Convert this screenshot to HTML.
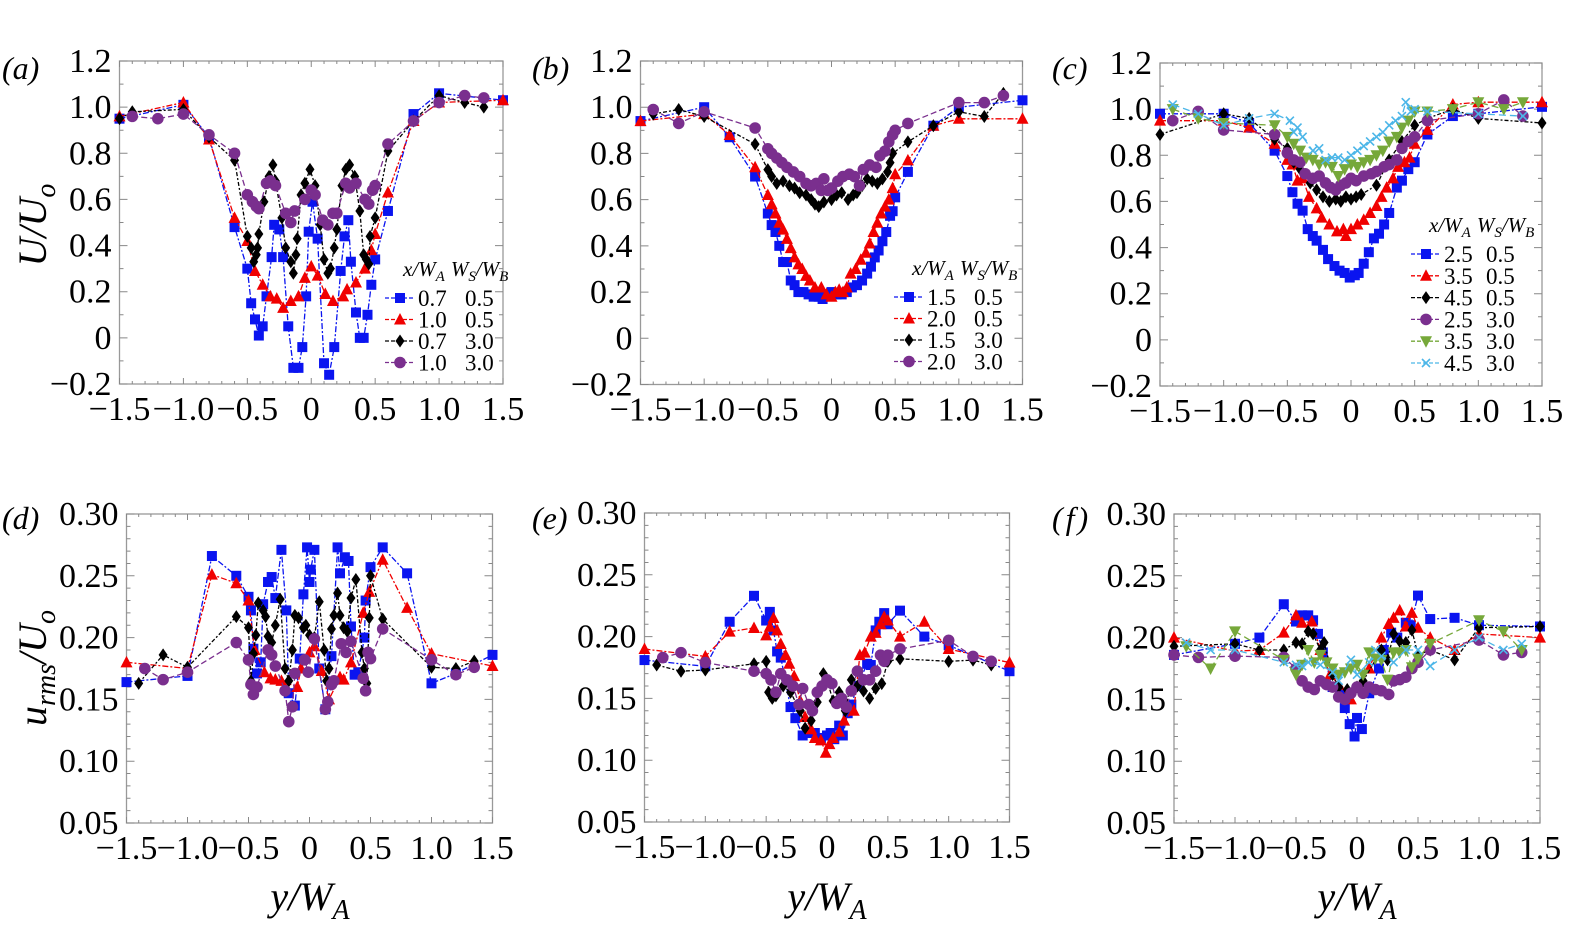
<!DOCTYPE html>
<html><head><meta charset="utf-8">
<style>
html,body{margin:0;padding:0;background:#fff;}
svg{display:block;}
text{font-family:"Liberation Serif",serif;}
</style></head>
<body>
<svg id="fig" width="1570" height="930" viewBox="0 0 1570 930" xmlns="http://www.w3.org/2000/svg">
<text x="2" y="79" font-size="32" font-style="italic">(a)</text>
<text x="532" y="79" font-size="32" font-style="italic">(b)</text>
<text x="1052" y="79" font-size="32" font-style="italic">(c)</text>
<text x="2" y="529" font-size="32" font-style="italic">(d)</text>
<text x="532" y="529" font-size="32" font-style="italic">(e)</text>
<text x="1052" y="529" font-size="32" font-style="italic">(<tspan dx="3">f</tspan><tspan dx="3">)</tspan></text>
<text transform="translate(46,225) rotate(-90)" text-anchor="middle" font-size="40" font-style="italic">U/U<tspan font-size="28" dy="9">o</tspan></text>
<text transform="translate(46,668) rotate(-90)" text-anchor="middle" font-size="40" font-style="italic">u<tspan font-size="28" dy="9">rms</tspan><tspan dy="-9">/U</tspan><tspan font-size="28" dy="9">o</tspan></text>
<text x="310" y="910" text-anchor="middle" font-size="40" font-style="italic">y/W<tspan font-size="28" dy="9">A</tspan></text>
<text x="827" y="910" text-anchor="middle" font-size="40" font-style="italic">y/W<tspan font-size="28" dy="9">A</tspan></text>
<text x="1357" y="910" text-anchor="middle" font-size="40" font-style="italic">y/W<tspan font-size="28" dy="9">A</tspan></text>
</svg>
<script>
// ---- Panel (a) data: U/Uo ----
const aBlueX=[-1.5,-1.0,-0.8,-0.6,-0.5,-0.47,-0.44,-0.41,-0.38,-0.35,-0.31,-0.29,-0.25,-0.22,-0.18,-0.14,-0.10,-0.07,-0.04,-0.02,0.01,0.05,0.10,0.14,0.18,0.23,0.26,0.29,0.31,0.35,0.38,0.41,0.44,0.47,0.5,0.6,0.8,1.0,1.5];
const aBlueY=[0.95,1.01,0.87,0.48,0.30,0.15,0.08,0.01,0.05,0.18,0.35,0.49,0.47,0.35,0.05,-0.13,-0.13,-0.04,0.18,0.46,0.59,0.43,-0.11,-0.16,-0.04,0.29,0.44,0.51,0.33,0.11,0.0,0.0,0.10,0.23,0.34,0.55,0.97,1.06,1.03];
const aRedX=[-1.5,-1.0,-0.8,-0.6,-0.5,-0.44,-0.38,-0.32,-0.27,-0.22,-0.16,-0.1,-0.05,0,0.05,0.11,0.17,0.25,0.28,0.35,0.42,0.47,0.5,0.6,0.8,1.0,1.5];
const aRedY=[0.96,1.02,0.86,0.52,0.42,0.29,0.23,0.18,0.17,0.13,0.16,0.18,0.26,0.31,0.27,0.19,0.16,0.18,0.21,0.24,0.30,0.38,0.45,0.63,0.94,1.02,1.03];
const aBlackX=[-1.5,-1.4,-1.0,-0.8,-0.6,-0.5,-0.47,-0.45,-0.43,-0.42,-0.41,-0.37,-0.33,-0.3,-0.28,-0.23,-0.2,-0.16,-0.14,-0.12,-0.11,-0.08,-0.05,-0.01,0.03,0.07,0.1,0.13,0.15,0.18,0.2,0.24,0.27,0.3,0.34,0.38,0.41,0.43,0.45,0.46,0.5,0.6,0.8,1.0,1.2,1.35];
const aBlackY=[0.95,0.98,0.99,0.87,0.77,0.44,0.39,0.33,0.36,0.39,0.45,0.59,0.70,0.75,0.68,0.52,0.39,0.33,0.28,0.36,0.43,0.62,0.67,0.73,0.66,0.49,0.34,0.28,0.30,0.39,0.47,0.66,0.73,0.75,0.70,0.55,0.36,0.34,0.32,0.44,0.52,0.81,0.94,1.05,1.02,1.0];
const aPurpleX=[-1.4,-1.2,-1.0,-0.8,-0.6,-0.5,-0.46,-0.43,-0.41,-0.35,-0.32,-0.28,-0.2,-0.16,-0.13,-0.05,0,0.03,0.09,0.13,0.17,0.2,0.27,0.3,0.35,0.42,0.45,0.48,0.5,0.6,0.8,1.0,1.2,1.35];
const aPurpleY=[0.96,0.95,0.97,0.88,0.80,0.62,0.59,0.57,0.56,0.67,0.68,0.66,0.54,0.50,0.55,0.60,0.64,0.62,0.51,0.49,0.54,0.54,0.67,0.65,0.67,0.60,0.58,0.64,0.66,0.84,0.94,1.02,1.05,1.04];
// ---- Panel (b) ----
const bBlueX=[-1.5,-1.0,-0.8,-0.6,-0.5,-0.47,-0.44,-0.41,-0.38,-0.35,-0.32,-0.29,-0.26,-0.22,-0.18,-0.14,-0.1,-0.07,-0.03,0,0.04,0.08,0.12,0.16,0.2,0.24,0.28,0.31,0.34,0.37,0.4,0.43,0.46,0.48,0.5,0.6,0.8,1.0,1.5];
const bBlueY=[0.94,1.0,0.87,0.70,0.54,0.49,0.46,0.40,0.33,0.33,0.25,0.23,0.20,0.20,0.19,0.18,0.18,0.17,0.19,0.20,0.19,0.19,0.20,0.22,0.23,0.25,0.28,0.31,0.35,0.38,0.42,0.46,0.53,0.55,0.61,0.72,0.92,1.0,1.03];
const bRedX=[-1.5,-1.0,-0.8,-0.6,-0.5,-0.47,-0.44,-0.41,-0.38,-0.35,-0.32,-0.29,-0.26,-0.23,-0.2,-0.17,-0.13,-0.08,-0.04,0,0.03,0.06,0.09,0.12,0.15,0.19,0.23,0.27,0.3,0.33,0.36,0.39,0.42,0.45,0.48,0.5,0.6,0.8,1.0,1.5];
const bRedY=[0.94,0.97,0.88,0.74,0.62,0.58,0.54,0.50,0.47,0.43,0.39,0.35,0.32,0.30,0.27,0.25,0.22,0.22,0.19,0.18,0.20,0.21,0.20,0.22,0.28,0.30,0.34,0.37,0.41,0.46,0.50,0.54,0.57,0.60,0.65,0.71,0.77,0.92,0.95,0.95];
const bBlackX=[-1.4,-1.2,-1.0,-0.6,-0.5,-0.47,-0.43,-0.38,-0.33,-0.29,-0.25,-0.2,-0.16,-0.13,-0.1,-0.06,0,0.04,0.08,0.13,0.17,0.2,0.24,0.28,0.32,0.36,0.4,0.44,0.46,0.48,0.6,0.8,1.0,1.2,1.35];
const bBlackY=[0.97,0.99,0.96,0.84,0.73,0.70,0.67,0.68,0.66,0.65,0.63,0.62,0.60,0.58,0.57,0.59,0.60,0.62,0.63,0.60,0.62,0.63,0.66,0.69,0.68,0.67,0.69,0.72,0.76,0.80,0.85,0.92,0.98,0.96,1.06];
const bPurpleX=[-1.4,-1.2,-1.0,-0.6,-0.5,-0.47,-0.43,-0.39,-0.35,-0.3,-0.25,-0.2,-0.16,-0.12,-0.08,-0.06,-0.03,0,0.05,0.09,0.14,0.18,0.22,0.25,0.3,0.35,0.38,0.42,0.45,0.48,0.5,0.6,1.0,1.2,1.35];
const bPurpleY=[0.99,0.93,0.98,0.91,0.82,0.80,0.78,0.76,0.74,0.72,0.70,0.67,0.66,0.67,0.64,0.69,0.64,0.65,0.68,0.70,0.71,0.70,0.66,0.73,0.75,0.74,0.79,0.81,0.85,0.88,0.90,0.93,1.02,1.02,1.05];
// ---- Panel (c) ----
const cBlueX=[-1.5,-1.0,-0.8,-0.6,-0.5,-0.46,-0.42,-0.38,-0.34,-0.3,-0.27,-0.22,-0.18,-0.13,-0.09,-0.05,-0.01,0.03,0.06,0.1,0.14,0.18,0.22,0.26,0.3,0.36,0.4,0.45,0.5,0.6,0.8,1.0,1.5];
const cBlueY=[0.98,0.98,0.94,0.82,0.71,0.64,0.59,0.56,0.48,0.45,0.43,0.39,0.35,0.32,0.30,0.29,0.27,0.28,0.29,0.33,0.38,0.44,0.46,0.50,0.55,0.66,0.69,0.74,0.77,0.89,0.97,0.98,1.01];
const cRedX=[-1.5,-1.0,-0.8,-0.6,-0.5,-0.46,-0.42,-0.38,-0.33,-0.27,-0.23,-0.17,-0.11,-0.06,-0.04,0,0.05,0.1,0.15,0.2,0.24,0.28,0.33,0.37,0.42,0.46,0.5,0.6,0.8,1.0,1.5];
const cRedY=[0.95,0.95,0.92,0.85,0.78,0.76,0.69,0.70,0.62,0.57,0.53,0.50,0.47,0.48,0.45,0.48,0.50,0.52,0.55,0.58,0.62,0.66,0.70,0.75,0.77,0.79,0.85,0.91,1.02,1.03,1.03];
const cBlackX=[-1.5,-1.0,-0.8,-0.6,-0.5,-0.45,-0.4,-0.32,-0.27,-0.22,-0.17,-0.12,-0.08,-0.04,0,0.04,0.08,0.2,0.3,0.4,0.5,0.6,0.8,1.0,1.5];
const cBlackY=[0.89,0.98,0.96,0.87,0.83,0.77,0.74,0.68,0.65,0.62,0.60,0.61,0.60,0.62,0.61,0.62,0.63,0.67,0.78,0.86,0.93,0.96,1.0,0.96,0.94];
const cPurpleX=[-1.4,-1.2,-1.0,-0.6,-0.5,-0.45,-0.4,-0.36,-0.3,-0.25,-0.2,-0.16,-0.12,-0.08,-0.04,0,0.04,0.1,0.16,0.2,0.26,0.3,0.36,0.4,0.45,0.5,0.6,1.0,1.2,1.35];
const cPurpleY=[0.95,0.99,0.91,0.89,0.81,0.78,0.77,0.72,0.70,0.71,0.68,0.66,0.65,0.67,0.68,0.70,0.69,0.71,0.72,0.73,0.75,0.76,0.78,0.83,0.86,0.88,0.95,0.98,1.04,0.97];
const cGreenX=[-1.4,-1.2,-1.0,-0.6,-0.5,-0.45,-0.4,-0.35,-0.3,-0.25,-0.2,-0.15,-0.1,-0.05,0,0.05,0.1,0.15,0.2,0.25,0.3,0.36,0.4,0.45,0.5,0.6,0.8,1.0,1.2,1.35];
const cGreenY=[1.0,0.96,0.94,0.93,0.88,0.85,0.82,0.79,0.78,0.76,0.77,0.75,0.71,0.74,0.76,0.75,0.77,0.78,0.80,0.82,0.86,0.88,0.92,0.95,0.99,0.99,1.0,1.03,1.0,1.03];
const cCyanX=[-1.4,-1.2,-1.0,-0.8,-0.6,-0.48,-0.45,-0.42,-0.38,-0.3,-0.25,-0.2,-0.15,-0.1,-0.05,0,0.05,0.1,0.15,0.2,0.25,0.3,0.35,0.4,0.43,0.47,0.5,0.6,1.0,1.35];
const cCyanY=[1.02,0.98,0.93,0.96,0.98,0.95,0.90,0.92,0.88,0.82,0.83,0.78,0.79,0.79,0.78,0.80,0.82,0.84,0.86,0.88,0.90,0.93,0.95,0.97,1.03,0.99,1.0,0.99,0.98,0.97];
// ---- Panel (d): urms/Uo ----
const dBlueX=[-1.5,-1.0,-0.8,-0.6,-0.5,-0.48,-0.46,-0.43,-0.4,-0.38,-0.34,-0.31,-0.28,-0.23,-0.19,-0.17,-0.12,-0.08,-0.05,-0.02,0,0.01,0.04,0.08,0.13,0.18,0.23,0.25,0.29,0.32,0.34,0.37,0.4,0.45,0.46,0.5,0.6,0.8,1.0,1.2,1.5];
const dBlueY=[0.164,0.169,0.266,0.250,0.233,0.222,0.191,0.171,0.180,0.227,0.245,0.249,0.232,0.271,0.222,0.155,0.145,0.183,0.235,0.273,0.245,0.255,0.271,0.175,0.142,0.185,0.273,0.252,0.265,0.262,0.209,0.170,0.172,0.200,0.230,0.257,0.273,0.252,0.163,0.171,0.186];
const dRedX=[-1.5,-1.0,-0.8,-0.6,-0.5,-0.45,-0.37,-0.32,-0.28,-0.23,-0.1,-0.07,0,0.04,0.1,0.16,0.25,0.28,0.34,0.44,0.49,0.6,0.8,1.0,1.5];
const dRedY=[0.180,0.175,0.251,0.244,0.230,0.190,0.172,0.167,0.166,0.165,0.160,0.175,0.188,0.193,0.173,0.150,0.168,0.166,0.180,0.220,0.237,0.263,0.224,0.187,0.177];
const dBlackX=[-1.4,-1.2,-1.0,-0.6,-0.5,-0.48,-0.46,-0.44,-0.42,-0.38,-0.36,-0.34,-0.31,-0.28,-0.24,-0.2,-0.17,-0.14,-0.12,-0.09,-0.05,-0.03,0,0.04,0.08,0.12,0.14,0.16,0.18,0.2,0.23,0.25,0.28,0.31,0.34,0.38,0.43,0.45,0.47,0.49,0.5,0.6,1.0,1.2,1.35];
const dBlackY=[0.163,0.186,0.176,0.217,0.208,0.165,0.187,0.202,0.228,0.222,0.217,0.201,0.196,0.210,0.231,0.175,0.165,0.190,0.218,0.216,0.208,0.210,0.202,0.200,0.229,0.190,0.165,0.175,0.207,0.218,0.236,0.218,0.208,0.205,0.232,0.247,0.188,0.175,0.163,0.216,0.250,0.215,0.176,0.175,0.181];
const dPurpleX=[-1.35,-1.2,-1.0,-0.6,-0.5,-0.48,-0.46,-0.43,-0.34,-0.31,-0.28,-0.2,-0.17,-0.14,-0.12,-0.04,-0.01,0.04,0.13,0.15,0.18,0.2,0.26,0.3,0.34,0.44,0.46,0.48,0.5,0.6,1.0,1.2,1.35];
const dPurpleY=[0.175,0.166,0.172,0.196,0.182,0.162,0.154,0.160,0.190,0.186,0.177,0.157,0.132,0.144,0.171,0.182,0.172,0.199,0.142,0.148,0.162,0.165,0.195,0.188,0.197,0.167,0.157,0.188,0.183,0.207,0.182,0.170,0.176];
// ---- Panel (e) ----
const eBlueX=[-1.5,-1.0,-0.8,-0.6,-0.5,-0.47,-0.44,-0.41,-0.38,-0.3,-0.26,-0.2,-0.15,-0.1,-0.05,0,0.03,0.06,0.1,0.13,0.17,0.2,0.25,0.33,0.36,0.4,0.43,0.47,0.5,0.6,0.8,1.0,1.5];
const eBlueY=[0.181,0.176,0.212,0.233,0.213,0.220,0.205,0.188,0.183,0.143,0.134,0.120,0.122,0.122,0.118,0.120,0.122,0.117,0.128,0.120,0.138,0.145,0.160,0.178,0.177,0.205,0.212,0.219,0.210,0.221,0.200,0.193,0.172];
const eRedX=[-1.5,-1.0,-0.8,-0.6,-0.5,-0.47,-0.44,-0.41,-0.38,-0.34,-0.31,-0.27,-0.22,-0.18,-0.13,-0.1,-0.05,-0.01,0.02,0.05,0.1,0.14,0.22,0.27,0.31,0.36,0.4,0.44,0.47,0.5,0.6,0.8,1.0,1.5];
const eRedY=[0.190,0.184,0.204,0.207,0.201,0.208,0.215,0.205,0.194,0.185,0.178,0.168,0.148,0.135,0.125,0.118,0.116,0.106,0.113,0.118,0.123,0.132,0.140,0.185,0.187,0.200,0.203,0.210,0.216,0.213,0.200,0.212,0.190,0.179];
const eBlackX=[-1.4,-1.2,-1.0,-0.6,-0.5,-0.48,-0.45,-0.42,-0.36,-0.3,-0.22,-0.18,-0.13,-0.08,-0.03,0,0.05,0.1,0.15,0.2,0.25,0.3,0.35,0.4,0.45,0.5,0.6,1.0,1.2,1.35];
const eBlackY=[0.177,0.172,0.173,0.178,0.180,0.155,0.150,0.152,0.160,0.155,0.140,0.126,0.132,0.147,0.170,0.165,0.148,0.155,0.140,0.165,0.160,0.156,0.150,0.158,0.162,0.180,0.182,0.180,0.181,0.177];
const ePurpleX=[-1.35,-1.2,-1.0,-0.6,-0.5,-0.46,-0.42,-0.38,-0.33,-0.28,-0.23,-0.2,-0.15,-0.12,-0.08,-0.04,0,0.04,0.08,0.12,0.16,0.2,0.25,0.3,0.35,0.4,0.44,0.47,0.5,0.6,1.0,1.2,1.35];
const ePurpleY=[0.183,0.187,0.179,0.172,0.170,0.165,0.155,0.170,0.165,0.160,0.145,0.158,0.145,0.140,0.155,0.160,0.165,0.162,0.146,0.150,0.143,0.156,0.172,0.165,0.165,0.172,0.185,0.180,0.185,0.190,0.197,0.184,0.180];
// ---- Panel (f) ----
const fBlueX=[-1.5,-1.0,-0.8,-0.6,-0.5,-0.45,-0.4,-0.36,-0.32,-0.28,-0.2,-0.12,-0.1,-0.06,-0.02,0,0.04,0.1,0.18,0.22,0.28,0.33,0.4,0.44,0.5,0.6,0.8,1.0,1.5];
const fBlueY=[0.186,0.195,0.200,0.227,0.213,0.218,0.218,0.214,0.203,0.188,0.160,0.155,0.143,0.130,0.120,0.135,0.126,0.155,0.175,0.190,0.204,0.200,0.212,0.210,0.234,0.215,0.216,0.210,0.209];
const fRedX=[-1.5,-1.0,-0.8,-0.6,-0.5,-0.45,-0.37,-0.3,-0.22,-0.15,-0.05,0.02,0.1,0.2,0.26,0.3,0.35,0.4,0.45,0.5,0.6,0.8,1.0,1.5];
const fRedY=[0.200,0.189,0.190,0.204,0.218,0.212,0.213,0.190,0.170,0.162,0.150,0.160,0.175,0.200,0.211,0.216,0.222,0.209,0.220,0.208,0.200,0.190,0.203,0.200];
const fBlackX=[-1.5,-1.0,-0.8,-0.6,-0.5,-0.45,-0.4,-0.36,-0.3,-0.27,-0.2,-0.15,-0.08,0,0.05,0.2,0.25,0.3,0.35,0.4,0.45,0.5,0.6,0.8,1.0,1.5];
const fBlackY=[0.193,0.195,0.190,0.190,0.196,0.195,0.205,0.203,0.190,0.196,0.170,0.160,0.158,0.160,0.165,0.190,0.182,0.203,0.197,0.196,0.206,0.186,0.190,0.182,0.208,0.209];
const fPurpleX=[-1.5,-1.3,-1.0,-0.6,-0.5,-0.45,-0.4,-0.35,-0.3,-0.25,-0.2,-0.15,-0.1,-0.05,0,0.05,0.1,0.15,0.2,0.26,0.3,0.35,0.4,0.45,0.5,0.6,1.0,1.2,1.35];
const fPurpleY=[0.186,0.184,0.185,0.184,0.175,0.165,0.160,0.158,0.165,0.162,0.160,0.152,0.150,0.155,0.160,0.155,0.160,0.158,0.157,0.154,0.165,0.166,0.168,0.175,0.180,0.190,0.198,0.186,0.188];
const fGreenX=[-1.4,-1.2,-1.0,-0.6,-0.5,-0.45,-0.4,-0.35,-0.3,-0.25,-0.2,-0.15,-0.1,-0.05,0,0.05,0.1,0.15,0.2,0.25,0.3,0.35,0.4,0.45,0.5,0.6,1.0,1.2,1.35];
const fGreenY=[0.193,0.175,0.205,0.182,0.170,0.178,0.190,0.180,0.186,0.180,0.175,0.170,0.172,0.175,0.178,0.170,0.188,0.183,0.182,0.166,0.188,0.188,0.190,0.176,0.183,0.195,0.214,0.205,0.190];
const fCyanX=[-1.4,-1.2,-1.0,-0.6,-0.5,-0.45,-0.4,-0.3,-0.2,-0.15,-0.05,0,0.1,0.15,0.2,0.3,0.4,0.5,0.6,0.8,1.0,1.2,1.35];
const fCyanY=[0.196,0.190,0.190,0.180,0.178,0.177,0.180,0.178,0.172,0.165,0.182,0.170,0.180,0.190,0.185,0.180,0.190,0.190,0.177,0.190,0.200,0.190,0.195];

const xTicks=[-1.5,-1.0,-0.5,0,0.5,1.0,1.5];
const xTickLabels=["−1.5","−1.0","−0.5","0","0.5","1.0","1.5"];
const yTopTicks=[-0.2,0,0.2,0.4,0.6,0.8,1.0,1.2];
const yTopLabels=["−0.2","0","0.2","0.4","0.6","0.8","1.0","1.2"];
const yBotTicks=[0.05,0.10,0.15,0.20,0.25,0.30];
const yBotLabels=["0.05","0.10","0.15","0.20","0.25","0.30"];

const NS="http://www.w3.org/2000/svg";
const svg=document.getElementById('fig');
function mk(tag,attrs,parent){const e=document.createElementNS(NS,tag);for(const k in attrs)e.setAttribute(k,attrs[k]);(parent||svg).appendChild(e);return e;}

const STY={
 blue:{c:'#0a14f0',m:'square',d:'6 2 2 2'},
 red:{c:'#f00000',m:'tri',d:'6 2 2 2'},
 black:{c:'#000000',m:'diamond',d:'4 2 2 2'},
 purple:{c:'#7a2f8e',m:'circle',d:'6 3'},
 green:{c:'#76a83a',m:'tridown',d:'7 4'},
 cyan:{c:'#4cb6e8',m:'x',d:'7 4'}
};
function marker(g,m,x,y,c){
 const s=5;
 if(m==='square')mk('rect',{x:x-s,y:y-s,width:2*s,height:2*s,fill:c},g);
 else if(m==='circle')mk('circle',{cx:x,cy:y,r:s+0.8,fill:c},g);
 else if(m==='tri')mk('polygon',{points:`${x},${y-s-1.5} ${x-s-1},${y+s} ${x+s+1},${y+s}`,fill:c},g);
 else if(m==='tridown')mk('polygon',{points:`${x},${y+s+1.5} ${x-s-1},${y-s} ${x+s+1},${y-s}`,fill:c},g);
 else if(m==='diamond')mk('polygon',{points:`${x},${y-s-1.5} ${x+s-0.5},${y} ${x},${y+s+1.5} ${x-s+0.5},${y}`,fill:c},g);
 else if(m==='x'){mk('path',{d:`M${x-4},${y-4}L${x+4},${y+4}M${x-4},${y+4}L${x+4},${y-4}`,stroke:c,'stroke-width':1.6,fill:'none'},g);}
}

function panel(id,L,R,T,B,y0,y1,yTicks,yLabels,yMinor,series,legend){
 const g=mk('g',{});
 
 
 const sx=v=>L+(v+1.5)/3*(R-L);
 const sy=v=>B-(v-y0)/(y1-y0)*(B-T);
 const frame=mk('rect',{x:L,y:T,width:R-L,height:B-T,fill:'none',stroke:'#999','stroke-width':1.3},g);
 
 
 let tk='';
 for(let i=0;i<=30;i++){const x=sx(-1.5+i*0.1);const len=(i%5===0)?6:3;tk+=`M${x},${B}v${-len}M${x},${T}v${len}`;}
 const ny=Math.round((y1-y0)/yMinor);
 for(let i=0;i<=ny;i++){const y=sy(y0+i*yMinor);tk+=`M${L},${y}h4M${R},${y}h-4`;}
 yTicks.forEach(v=>{const y=sy(v);tk+=`M${L},${y}h8M${R},${y}h-8`;});
 mk('path',{d:tk,stroke:'#888','stroke-width':1,fill:'none'},g);
 xTicks.forEach((v,i)=>{const t=mk('text',{x:sx(v),y:B+36,'text-anchor':'middle','font-size':34},g);t.textContent=xTickLabels[i];
  
  });
 yTicks.forEach((v,i)=>{const t=mk('text',{x:L-8,y:sy(v)+11,'text-anchor':'end','font-size':34},g);t.textContent=yLabels[i];
  
  });
 series.forEach(s=>{
  const st=STY[s.k];
  const sg=mk('g',{},g);
  
  
  const pts=s.x.map((v,i)=>sx(v).toFixed(1)+','+sy(s.y[i]).toFixed(1)).join(' ');
  mk('polyline',{points:pts,fill:'none',stroke:st.c,'stroke-width':1.3,'stroke-dasharray':st.d},sg);
  s.x.forEach((v,i)=>marker(sg,st.m,sx(v),sy(s.y[i]),st.c));
 });
 if(legend){
  const lg=mk('g',{},g);
  
  
  const h=mk('text',{x:legend.x+18,y:legend.y,'font-size':21,'font-style':'italic'},lg);
  h.innerHTML='x/W<tspan font-size="15" dy="5">A</tspan><tspan dx="6" dy="-5">W</tspan><tspan font-size="15" dy="5">S</tspan><tspan dy="-5">/W</tspan><tspan font-size="15" dy="5">B</tspan>';
  legend.items.forEach((it,i)=>{
   const y=legend.y+legend.dy0+i*legend.dy;const st=STY[it.k];
   const eg=mk('g',{},lg);
   
   
   mk('line',{x1:legend.x,y1:y,x2:legend.x+30,y2:y,stroke:st.c,'stroke-width':1.3,'stroke-dasharray':'4 2'},eg);
   marker(eg,st.m,legend.x+15,y,st.c);
   const t=mk('text',{x:legend.x+33,y:y+8,'font-size':23},eg);t.textContent=it.a;
   const t2=mk('text',{x:legend.x+legend.c2,y:y+8,'font-size':23},eg);t2.textContent=it.b;
  });
 }
}

panel('a',119.5,503,61,384,-0.2,1.2,yTopTicks,yTopLabels,0.1,
 [{k:'blue',x:aBlueX,y:aBlueY},{k:'red',x:aRedX,y:aRedY},{k:'black',x:aBlackX,y:aBlackY},{k:'purple',x:aPurpleX,y:aPurpleY}],
 {x:385,y:276,dy0:22,dy:21.5,c2:80,items:[{k:'blue',a:'0.7',b:'0.5'},{k:'red',a:'1.0',b:'0.5'},{k:'black',a:'0.7',b:'3.0'},{k:'purple',a:'1.0',b:'3.0'}]});
panel('b',640.5,1022.5,61,384.5,-0.2,1.2,yTopTicks,yTopLabels,0.1,
 [{k:'blue',x:bBlueX,y:bBlueY},{k:'red',x:bRedX,y:bRedY},{k:'black',x:bBlackX,y:bBlackY},{k:'purple',x:bPurpleX,y:bPurpleY}],
 {x:894,y:275,dy0:22,dy:21.5,c2:80,items:[{k:'blue',a:'1.5',b:'0.5'},{k:'red',a:'2.0',b:'0.5'},{k:'black',a:'1.5',b:'3.0'},{k:'purple',a:'2.0',b:'3.0'}]});
panel('c',1160,1542,63,386,-0.2,1.2,yTopTicks,yTopLabels,0.1,
 [{k:'blue',x:cBlueX,y:cBlueY},{k:'red',x:cRedX,y:cRedY},{k:'black',x:cBlackX,y:cBlackY},{k:'purple',x:cPurpleX,y:cPurpleY},{k:'green',x:cGreenX,y:cGreenY},{k:'cyan',x:cCyanX,y:cCyanY}],
 {x:1411,y:232,dy0:22,dy:21.8,c2:75,items:[{k:'blue',a:'2.5',b:'0.5'},{k:'red',a:'3.5',b:'0.5'},{k:'black',a:'4.5',b:'0.5'},{k:'purple',a:'2.5',b:'3.0'},{k:'green',a:'3.5',b:'3.0'},{k:'cyan',a:'4.5',b:'3.0'}]});
panel('d',126.5,492.5,514,823,0.05,0.30,yBotTicks,yBotLabels,0.01,
 [{k:'blue',x:dBlueX,y:dBlueY},{k:'red',x:dRedX,y:dRedY},{k:'black',x:dBlackX,y:dBlackY},{k:'purple',x:dPurpleX,y:dPurpleY}],null);
panel('e',644.5,1009.5,513,822,0.05,0.30,yBotTicks,yBotLabels,0.01,
 [{k:'blue',x:eBlueX,y:eBlueY},{k:'red',x:eRedX,y:eRedY},{k:'black',x:eBlackX,y:eBlackY},{k:'purple',x:ePurpleX,y:ePurpleY}],null);
panel('f',1174,1540,514,823,0.05,0.30,yBotTicks,yBotLabels,0.01,
 [{k:'blue',x:fBlueX,y:fBlueY},{k:'red',x:fRedX,y:fRedY},{k:'black',x:fBlackX,y:fBlackY},{k:'purple',x:fPurpleX,y:fPurpleY},{k:'green',x:fGreenX,y:fGreenY},{k:'cyan',x:fCyanX,y:fCyanY}],null);
</script>
</body></html>
